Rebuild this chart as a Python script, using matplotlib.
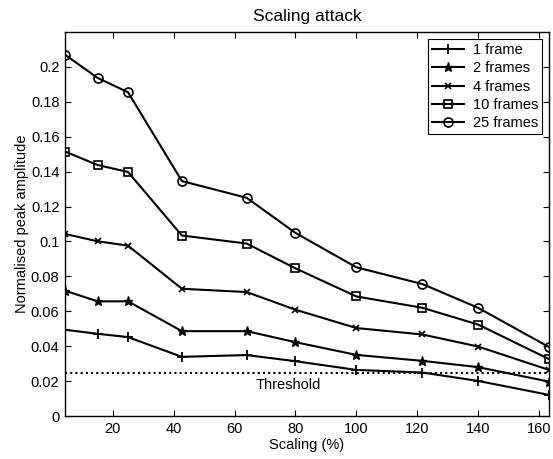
import numpy as np
import matplotlib
matplotlib.use("Agg")
import matplotlib.pyplot as plt

plt.rcParams['font.family'] = ['Liberation Sans', 'DejaVu Sans']
plt.rcParams['font.size'] = 10.5

# scaling values (%)
scaling = [4.3, 15, 25, 42.7, 64, 80, 100, 121.7, 140, 163.3]

frames_1 = [0.0494, 0.0471, 0.0452, 0.0339, 0.0349, 0.0314, 0.0264, 0.0249, 0.0201, 0.0121]
frames_2 = [0.0718, 0.0657, 0.0657, 0.0486, 0.0486, 0.0423, 0.0350, 0.0316, 0.0280, 0.0197]
frames_4 = [0.1043, 0.1001, 0.0976, 0.0729, 0.0710, 0.0609, 0.0504, 0.0467, 0.0398, 0.0264]
frames_10 = [0.1515, 0.1438, 0.1398, 0.1034, 0.0988, 0.0846, 0.0685, 0.0620, 0.0524, 0.0326]
frames_25 = [0.2070, 0.1937, 0.1855, 0.1346, 0.1250, 0.1049, 0.0852, 0.0756, 0.0620, 0.0395]

threshold = 0.0245

fig = plt.figure(figsize=(5.53, 4.59), dpi=100)
ax = fig.add_axes([65 / 553, 1 - 416 / 459, (549 - 65) / 553, (416 - 32) / 459])

ax.plot(scaling, frames_1, color='black', lw=1.5, marker='+', ms=7, mew=1.3, label='1 frame')
ax.plot(scaling, frames_2, color='black', lw=1.5, marker='*', ms=6.5, mew=1.0, label='2 frames')
ax.plot(scaling, frames_4, color='black', lw=1.5, marker='x', ms=4, mew=1.2, label='4 frames')
ax.plot(scaling, frames_10, color='black', lw=1.5, marker='s', ms=6, mfc='none', mew=1.2, label='10 frames')
ax.plot(scaling, frames_25, color='black', lw=1.5, marker='o', ms=6.5, mfc='none', mew=1.2, label='25 frames')

ax.axhline(threshold, color='black', lw=1.5, ls=(0, (1, 1.5)))
ax.text(67, threshold - 0.0025, 'Threshold', ha='left', va='top')

ax.set_xlim(4.3, 163.3)
ax.set_ylim(0, 0.22)
ax.set_xticks([20, 40, 60, 80, 100, 120, 140, 160])
ax.set_yticks([0, 0.02, 0.04, 0.06, 0.08, 0.1, 0.12, 0.14, 0.16, 0.18, 0.2])
ax.set_yticklabels(['0', '0.02', '0.04', '0.06', '0.08', '0.1', '0.12', '0.14', '0.16', '0.18', '0.2'])
ax.tick_params(direction='in', top=True, right=True, length=4, width=0.8, pad=4)
for s in ax.spines.values():
    s.set_linewidth(1.0)

ax.set_xlabel('Scaling (%)', labelpad=2)
ax.set_ylabel('Normalised peak amplitude', labelpad=1)
ax.set_title('Scaling attack', pad=8)

leg = ax.legend(loc='upper right', fancybox=False, edgecolor='black', framealpha=1,
                borderpad=0.25, labelspacing=0.3, handlelength=2.2, handletextpad=0.6,
                borderaxespad=0.5)
leg.get_frame().set_linewidth(0.8)

fig.savefig('out.png', dpi=100)
